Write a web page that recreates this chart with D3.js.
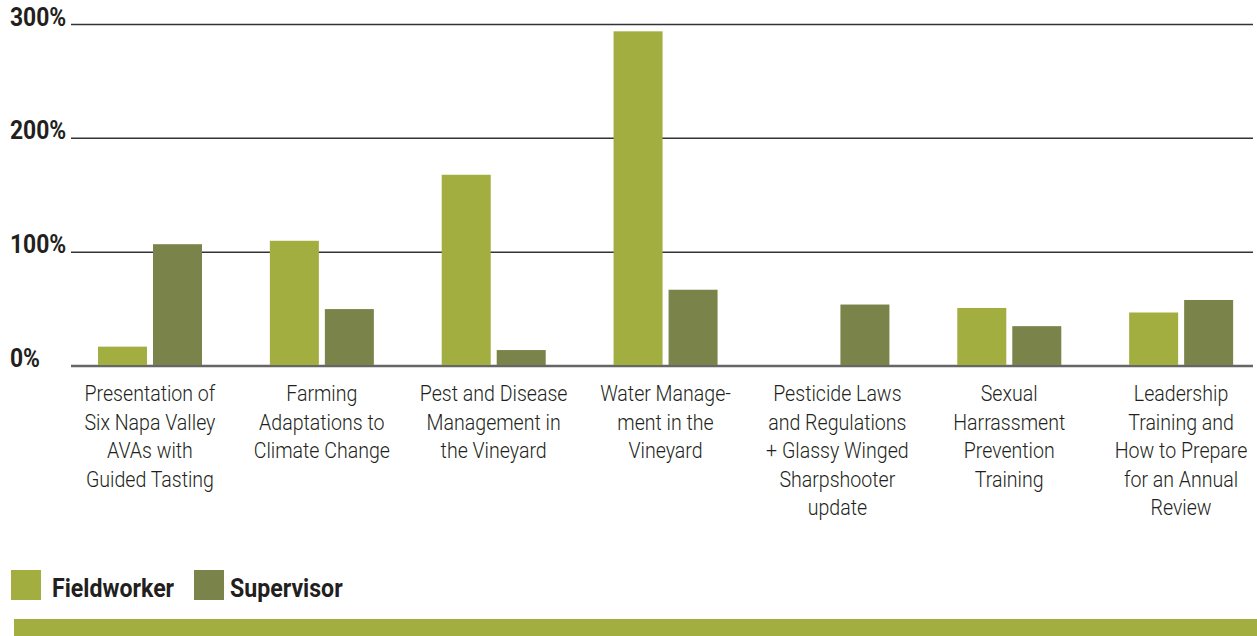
<!DOCTYPE html>
<html><head><meta charset="utf-8">
<script src="https://cdn.jsdelivr.net/npm/d3@7"></script>
<style>
body{margin:0;background:#fff;}
svg{display:block;}
.cat{font-family:Roboto,"Liberation Sans",sans-serif;font-size:22.5px;font-weight:300;fill:#231f20;}
.ylab{font-family:Roboto,"Liberation Sans",sans-serif;font-size:26px;font-weight:bold;fill:#231f20;}
.leg{font-family:Roboto,"Liberation Sans",sans-serif;font-size:26px;font-weight:bold;fill:#231f20;}
</style></head><body>
<svg id="c" width="1257" height="636"></svg>
<script>
const categories = [
  ["Presentation of","Six Napa Valley","AVAs with","Guided Tasting"],
  ["Farming","Adaptations to","Climate Change"],
  ["Pest and Disease","Management in","the Vineyard"],
  ["Water Manage-","ment in the","Vineyard"],
  ["Pesticide Laws","and Regulations","+ Glassy Winged","Sharpshooter","update"],
  ["Sexual","Harrassment","Prevention","Training"],
  ["Leadership","Training and","How to Prepare","for an Annual","Review"]
];
const series = ["Fieldworker","Supervisor"];
const fieldworker = [17, 110, 168, 294, 0, 51, 47];
const supervisor = [107, 50, 14, 67, 54, 35, 58];
const yTicks = [0, 100, 200, 300];
const colors = ["#a3ae41", "#7a834a"];

const svg = d3.select("#c");
const x0 = d3.scaleBand().domain(d3.range(categories.length)).range([64, 1267]).padding(0);
const x1 = d3.scaleBand().domain(series).range([34, 138]).paddingInner(0.109).paddingOuter(0);
const y = d3.scaleLinear().domain([0, 300]).range([366, 24.5]);

function ctext(parent, cls, x, yy, str, anchor, sx) {
  return parent.append("text").attr("class", cls)
    .attr("text-anchor", anchor)
    .attr("transform", `translate(${x},${yy}) scale(${sx},1)`)
    .text(str);
}

const grid = svg.append("g");
yTicks.forEach(t => {
  grid.append("line").attr("x1", 71).attr("x2", 1253)
    .attr("y1", y(t)).attr("y2", y(t))
    .attr("stroke", t === 0 ? "#666" : "#333")
    .attr("stroke-width", t === 0 ? 2.5 : 1.5);
  ctext(grid, "ylab", 10, y(t) + 1, t + "%", "start", 0.88);
});

const data = [fieldworker, supervisor];
const g = svg.append("g");
categories.forEach((c, i) => {
  series.forEach((s, j) => {
    const v = data[j][i];
    if (v > 0) {
      g.append("rect").attr("x", x0(i) + x1(s)).attr("width", x1.bandwidth())
        .attr("y", y(v)).attr("height", y(0) - y(v) - 1).attr("fill", colors[j]);
    }
  });
  c.forEach((line, k) => {
    ctext(g, "cat", x0(i) + x0.bandwidth()/2, 401 + k*28.5, line, "middle", 0.87);
  });
});

const lg = svg.append("g");
lg.append("rect").attr("x", 11).attr("y", 570).attr("width", 30).attr("height", 30).attr("fill", colors[0]);
ctext(lg, "leg", 52, 597, series[0], "start", 0.89);
lg.append("rect").attr("x", 194).attr("y", 570).attr("width", 30).attr("height", 30).attr("fill", colors[1]);
ctext(lg, "leg", 230, 597, series[1], "start", 0.89);

svg.append("rect").attr("x", 14).attr("y", 619).attr("width", 1243).attr("height", 17).attr("fill", colors[0]);
</script>
</body></html>
